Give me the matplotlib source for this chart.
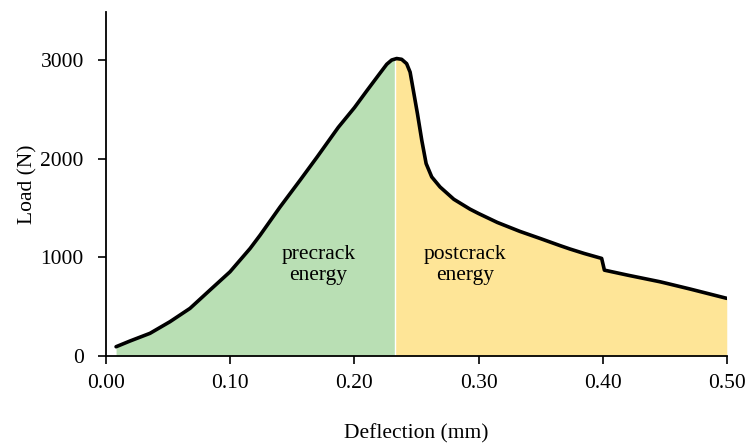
import numpy as np
import matplotlib
matplotlib.use("Agg")
import matplotlib.pyplot as plt

plt.rcParams['font.family'] = ['Liberation Serif', 'DejaVu Serif']

# load-deflection curve
deflection = [0.0081, 0.0193, 0.0354, 0.0515, 0.0676, 0.0837, 0.0998, 0.116,
              0.124, 0.14, 0.1562, 0.17, 0.187, 0.20, 0.2099, 0.22, 0.226,
              0.23, 0.234, 0.238, 0.242, 0.2448, 0.2474, 0.2507, 0.2542,
              0.2577, 0.2622, 0.2689, 0.28, 0.293, 0.30, 0.315, 0.333, 0.35,
              0.3655, 0.3736, 0.385, 0.399, 0.4012, 0.42, 0.446, 0.452, 0.47,
              0.4997]
load = [94, 152, 230, 348, 483, 669, 854, 1091,
        1225, 1510, 1783, 2020, 2320, 2520, 2690, 2860, 2960,
        3003, 3018, 3010, 2966, 2880, 2695, 2459, 2188,
        1952, 1817, 1715, 1590, 1490, 1445, 1355, 1265, 1190,
        1120, 1085, 1040, 990, 871, 820, 753, 735, 680,
        585]
crack_defl = 0.233

x_ticks = [0.0, 0.1, 0.2, 0.3, 0.4, 0.5]
x_ticklabels = ["0.00", "0.10", "0.20", "0.30", "0.40", "0.50"]
y_ticks = [0, 1000, 2000, 3000]

x = np.array(deflection)
y = np.array(load)
y_crack = np.interp(crack_defl, x, y)

fig = plt.figure(figsize=(7.45, 4.43), dpi=100)
ax = fig.add_axes([0.1423, 0.1964, 0.8337, 0.7765])

pre = x < crack_defl
xp = np.append(x[pre], crack_defl)
yp = np.append(y[pre], y_crack)
xq = np.insert(x[~pre], 0, crack_defl)
yq = np.insert(y[~pre], 0, y_crack)
ax.fill_between(xp, 0, yp, color='#b9dfb4', lw=0)
ax.fill_between(xq, 0, yq, color='#fee597', lw=0)
ax.plot([crack_defl, crack_defl], [0, y_crack], color='white', lw=1)
ax.plot(x, y, color='black', lw=2.6, solid_capstyle='round',
        solid_joinstyle='round')

ax.text(0.171, 920, "precrack\nenergy", ha='center', va='center',
        fontsize=15.5, linespacing=1.15)
ax.text(0.289, 920, "postcrack\nenergy", ha='center', va='center',
        fontsize=15.5, linespacing=1.15)

ax.set_xlim(0, 0.5)
ax.set_ylim(0, 3490)
ax.set_xticks(x_ticks)
ax.set_xticklabels(x_ticklabels)
ax.set_yticks(y_ticks)
ax.tick_params(labelsize=15.5, direction='out', length=6, width=1.2)
ax.tick_params(axis='x', pad=7)
ax.tick_params(axis='y', pad=10)
for s in ['top', 'right']:
    ax.spines[s].set_visible(False)
for s in ['left', 'bottom']:
    ax.spines[s].set_linewidth(1.3)

ax.set_xlabel("Deflection (mm)", fontsize=15.5, labelpad=22)
ax.set_ylabel("Load (N)", fontsize=15.5, labelpad=2)

fig.savefig("out.png", dpi=100)
